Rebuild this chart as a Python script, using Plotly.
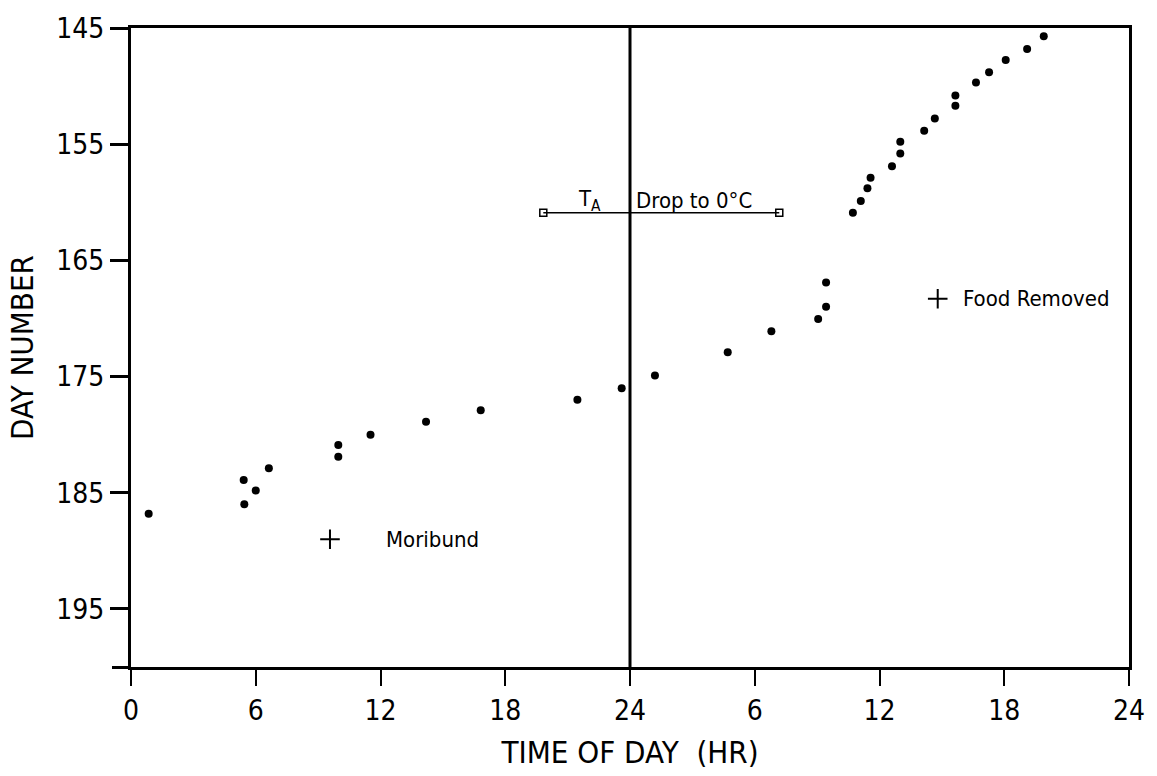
import plotly.graph_objects as go

# Data
time_hr = [0.85, 5.42, 5.45, 6.0, 6.63, 9.97, 9.97, 11.52, 14.19, 16.82, 21.47, 23.6,
           25.2, 28.7, 30.8, 33.05, 33.43, 33.43, 34.72, 35.1, 35.42, 35.57, 36.6, 37.0,
           37.0, 38.15, 38.66, 39.65, 39.65, 40.64, 41.27, 42.07, 43.1, 43.9]
day_num = [186.8, 183.9, 186.0, 184.8, 182.9, 180.9, 181.9, 180.0, 178.9, 177.9, 177.0, 176.0,
           174.9, 172.9, 171.1, 170.05, 169.0, 166.9, 160.9, 159.9, 158.8, 157.9, 156.9, 155.8,
           154.8, 153.85, 152.8, 151.7, 150.8, 149.7, 148.8, 147.75, 146.8, 145.7]

x_tickvals = [0, 6, 12, 18, 24, 30, 36, 42, 48]
x_ticktext = ["0", "6", "12", "18", "24", "6", "12", "18", "24"]
y_tickvals = [145, 155, 165, 175, 185, 195]
y_ticktext = ["145", "155", "165", "175", "185", "195"]
y_extra_tick = [200]

drop_x = [19.83, 31.18]
drop_y = [160.9, 160.9]
midnight_x = [24, 24]
midnight_y = [145, 200]
marker_x = [9.57, 38.8]
marker_y = [189.0, 168.3]
marker_labels = ["Moribund", "Food Removed"]
marker_label_x = [12.17, 39.9]

FONT = "DejaVu Sans Condensed, Liberation Sans Narrow, sans-serif"

fig = go.Figure()

fig.add_trace(go.Scatter(x=midnight_x, y=midnight_y, mode="lines",
                         line=dict(color="black", width=3), hoverinfo="skip"))
fig.add_trace(go.Scatter(x=drop_x, y=drop_y, mode="lines+markers",
                         line=dict(color="black", width=1.5),
                         marker=dict(symbol="square-open", size=7, color="black",
                                     line=dict(width=1.5, color="black"))))
fig.add_trace(go.Scatter(x=time_hr, y=day_num, mode="markers",
                         marker=dict(symbol="circle", size=8, color="black")))
fig.add_trace(go.Scatter(x=marker_x, y=marker_y, mode="markers",
                         marker=dict(symbol="cross-thin", size=14,
                                     line=dict(width=2, color="black"))))
# invisible trace on the secondary y axis so it is drawn (extra tick at 200)
fig.add_trace(go.Scatter(x=[None], y=[None], yaxis="y2", mode="markers",
                         hoverinfo="skip"))

for lx, ly, lt in zip(marker_label_x, marker_y, marker_labels):
    fig.add_annotation(x=lx, y=ly, text=lt, showarrow=False,
                       xanchor="left", yanchor="middle",
                       font=dict(family=FONT, size=22, color="black"))

fig.add_annotation(x=21.4, y=160.9, text="T<sub>A</sub>", showarrow=False,
                   xanchor="left", yanchor="bottom", yshift=-4,
                   font=dict(family=FONT, size=22, color="black"))
fig.add_annotation(x=24.2, y=160.9, text="Drop to 0°C", showarrow=False,
                   xanchor="left", yanchor="bottom", yshift=-2,
                   font=dict(family=FONT, size=22, color="black"))

fig.update_layout(
    width=1157, height=776,
    margin=dict(l=131, r=24, t=22, b=106),
    paper_bgcolor="white", plot_bgcolor="white",
    showlegend=False,
    font=dict(family=FONT, color="black"),
    xaxis=dict(range=[0, 48], tickvals=x_tickvals, ticktext=x_ticktext,
               showgrid=False, zeroline=False, showline=True, linecolor="black",
               linewidth=3, mirror=True, ticks="outside", ticklen=16, tickwidth=2,
               tickcolor="black", tickfont=dict(family=FONT, size=28, color="black"),
               title=dict(text="TIME OF DAY  (HR)", standoff=16,
                          font=dict(family=FONT, size=31, color="black"))),
    yaxis=dict(range=[200, 145], tickvals=y_tickvals, ticktext=y_ticktext,
               showgrid=False, zeroline=False, showline=True, linecolor="black",
               linewidth=3, mirror=True, ticks="outside", ticklen=18, tickwidth=3,
               tickcolor="black", tickfont=dict(family=FONT, size=28, color="black"),
               title=dict(text="DAY NUMBER", standoff=14,
                          font=dict(family=FONT, size=31, color="black"))),
    yaxis2=dict(range=[200, 145], overlaying="y", side="left", tickvals=y_extra_tick,
                showticklabels=False, showgrid=False, zeroline=False, showline=False,
                ticks="outside", ticklen=18, tickwidth=3, tickcolor="black"),
)

fig.write_html("out.html")
